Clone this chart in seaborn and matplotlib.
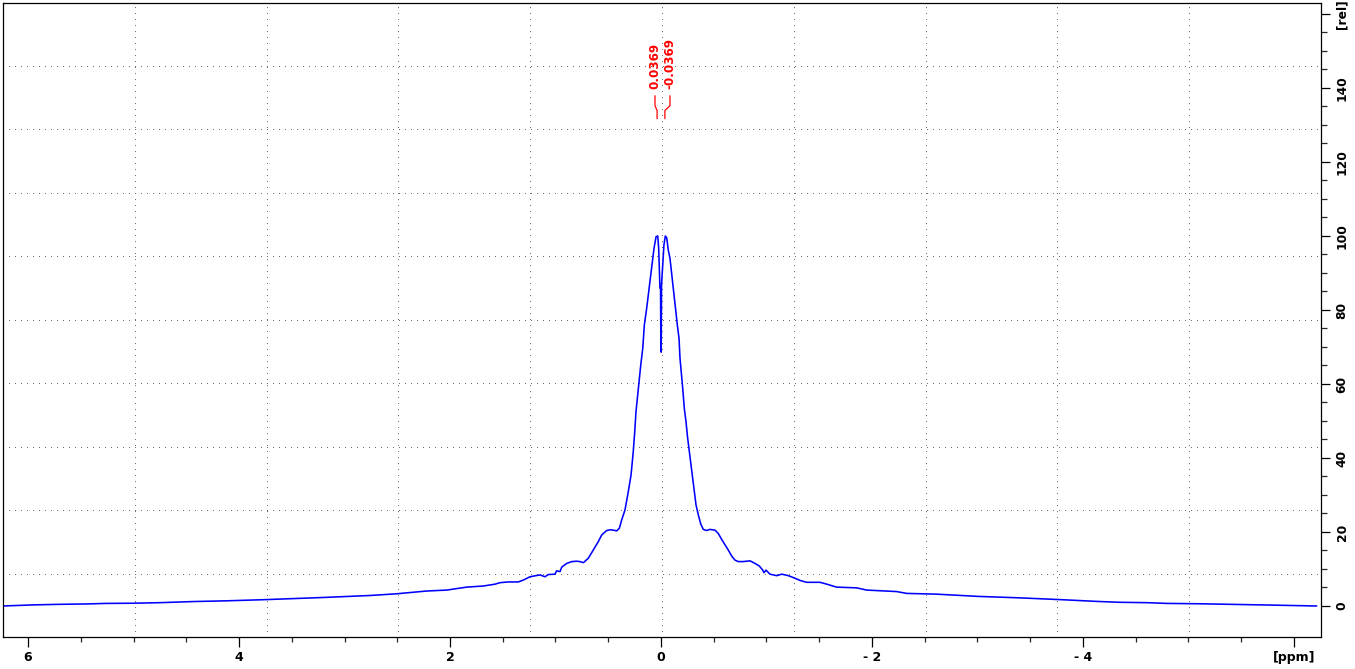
import numpy as np
import pandas as pd
import matplotlib
matplotlib.use("Agg")
import matplotlib.pyplot as plt
import seaborn as sns

# Datos del espectro (ppm, intensidad relativa)
ppm = [6.234, 5.95, 5.70, 5.45, 5.254, 5.0, 4.749, 4.433, 4.117, 3.77, 3.485,
       3.2, 2.95, 2.75, 2.664, 2.505, 2.35, 2.221, 2.031, 1.842, 1.684, 1.573,
       1.526, 1.45, 1.353, 1.305, 1.242, 1.147, 1.100, 1.068, 1.005, 0.989,
       0.957, 0.941, 0.894, 0.846, 0.80, 0.768, 0.736, 0.689, 0.642, 0.594,
       0.562, 0.515, 0.48, 0.452, 0.420, 0.395, 0.373, 0.341, 0.310, 0.284,
       0.263, 0.249, 0.237, 0.215, 0.192, 0.173, 0.158, 0.136, 0.114, 0.098,
       0.082, 0.066, 0.047, 0.031, 0.022, 0.010, 0.004, 0.001, -0.002, -0.005,
       -0.028, -0.041, -0.054, -0.069, -0.085, -0.101, -0.120, -0.139, -0.155,
       -0.171, -0.180, -0.192, -0.206, -0.221, -0.237, -0.253, -0.268, -0.284,
       -0.300, -0.316, -0.332, -0.354, -0.376, -0.401, -0.433, -0.464, -0.512,
       -0.543, -0.575, -0.607, -0.638, -0.670, -0.701, -0.733, -0.780, -0.844,
       -0.891, -0.932, -0.964, -0.976, -0.995, -1.033, -1.097, -1.144, -1.207,
       -1.270, -1.318, -1.381, -1.507, -1.571, -1.665, -1.855, -1.950, -2.10,
       -2.234, -2.329, -2.613, -2.80, -3.0, -3.4, -3.8, -4.161, -4.351, -4.604,
       -4.794, -5.109, -5.425, -5.741, -6.057, -6.215]
intensidad = [0.0, 0.3, 0.45, 0.55, 0.7, 0.75, 0.9, 1.2, 1.4, 1.7, 2.0,
              2.3, 2.6, 2.85, 3.0, 3.3, 3.7, 4.05, 4.3, 5.1, 5.4, 5.9,
              6.3, 6.5, 6.5, 7.0, 7.9, 8.4, 7.9, 8.5, 8.6, 9.5,
              9.3, 10.5, 11.5, 12.0, 12.1, 12.0, 11.7, 12.9, 15.1, 17.4,
              19.2, 20.4, 20.6, 20.5, 20.3, 21.0, 23.2, 26.0, 30.9, 35.4,
              41.7, 47.1, 52.5, 58.8, 65.1, 69.6, 75.9, 80.4, 85.4, 89.5,
              93.0, 96.7, 99.8, 100.0, 96.7, 86.0, 85.5, 69.0, 68.6, 86.8,
              97.6, 100.0, 99.5, 96.2, 94.0, 89.5, 85.0, 80.0, 75.9,
              72.3, 67.0, 63.3, 58.8, 53.4, 49.8, 45.3, 41.7, 38.1,
              34.5, 30.9, 27.3, 24.6, 22.2, 20.7, 20.4, 20.7, 20.5,
              19.6, 18.0, 16.5, 15.1, 13.5, 12.4, 12.0, 12.0, 12.2,
              11.5, 10.8, 9.7, 9.0, 9.7, 8.6, 8.2, 8.6, 8.2,
              7.5, 6.9, 6.4, 6.4, 5.9, 5.1, 4.9, 4.3, 4.1,
              3.9, 3.4, 3.2, 2.9, 2.6, 2.2, 1.7, 1.2, 1.0, 0.9,
              0.7, 0.6, 0.45, 0.27, 0.1, 0.0]

# Picos marcados
picos = [0.0369, -0.0369]
picos_txt = ["0.0369", "-0.0369"]
picos_pos_txt = [0.057, -0.085]

# Ejes
x_ticks = [6, 4, 2, 0, -2, -4, -6]
x_labels = ["6", "4", "2", "0", "- 2", "- 4", "[ppm]"]
y_ticks = [0, 20, 40, 60, 80, 100, 120, 140, 160]
y_labels = ["0", "20", "40", "60", "80", "100", "120", "140", "[rel]"]

df = pd.DataFrame({"ppm": ppm, "intensidad": intensidad})

sns.set_theme(style="white")
plt.rcParams["font.family"] = ["DejaVu Sans"]
plt.rcParams["font.weight"] = "bold"

fig = plt.figure(figsize=(13.55, 6.69), dpi=100)
ax = fig.add_axes([3 / 1355, 32 / 669, 1318 / 1355, 634.5 / 669])

sns.lineplot(data=df, x="ppm", y="intensidad", estimator=None, color="#0000ff",
             linewidth=1.15, ax=ax)

ax.set_xlim(6.237, -6.256)
ax.set_ylim(-8.38, 163.1)

# Rejilla punteada (10 divisiones)
for f in np.linspace(0.1, 0.9, 9):
    ax.plot([f, f], [0, 1], transform=ax.transAxes, color="#707070",
            linewidth=1.0, linestyle=(0, (0.72, 3.6)), antialiased=False,
            zorder=0)
    ax.plot([0, 1], [f, f], transform=ax.transAxes, color="#707070",
            linewidth=1.0, linestyle=(0, (0.72, 3.6)), antialiased=False,
            zorder=0)

for s in ax.spines.values():
    s.set_color("black")
    s.set_linewidth(0.9)

ax.set_xticks(x_ticks, labels=x_labels)
ax.set_xticks(np.arange(-6, 6.01, 0.5), minor=True)
ax.tick_params(axis="x", which="major", length=7.2, width=0.9, pad=3.0,
               labelsize=9, bottom=True, colors="black")
ax.tick_params(axis="x", which="minor", length=3.6, width=0.9, bottom=True)

ax.yaxis.tick_right()
ax.set_yticks(y_ticks, labels=y_labels, rotation=90, va="center")
ax.set_yticks(np.arange(0, 161, 5), minor=True)
ax.tick_params(axis="y", which="major", length=6.5, width=0.9, pad=4.0,
               labelsize=8.8, left=False, right=True, labelleft=False,
               labelright=True, colors="black")
ax.tick_params(axis="y", which="minor", length=4.3, width=0.9, left=False,
               right=True)

ax.set_xlabel("")
ax.set_ylabel("")

# Etiquetas de picos
for pk, txt, lx in zip(picos, picos_txt, picos_pos_txt):
    ax.plot([lx, lx, pk, pk], [137.9, 135.2, 133.9, 131.7], color="#ff0000",
            linewidth=0.9)
    ax.text(lx, 139.6, txt, rotation=90, ha="center", va="bottom",
            color="#ff0000", fontsize=8.6, fontweight="bold")

fig.savefig("out.png", dpi=100)
